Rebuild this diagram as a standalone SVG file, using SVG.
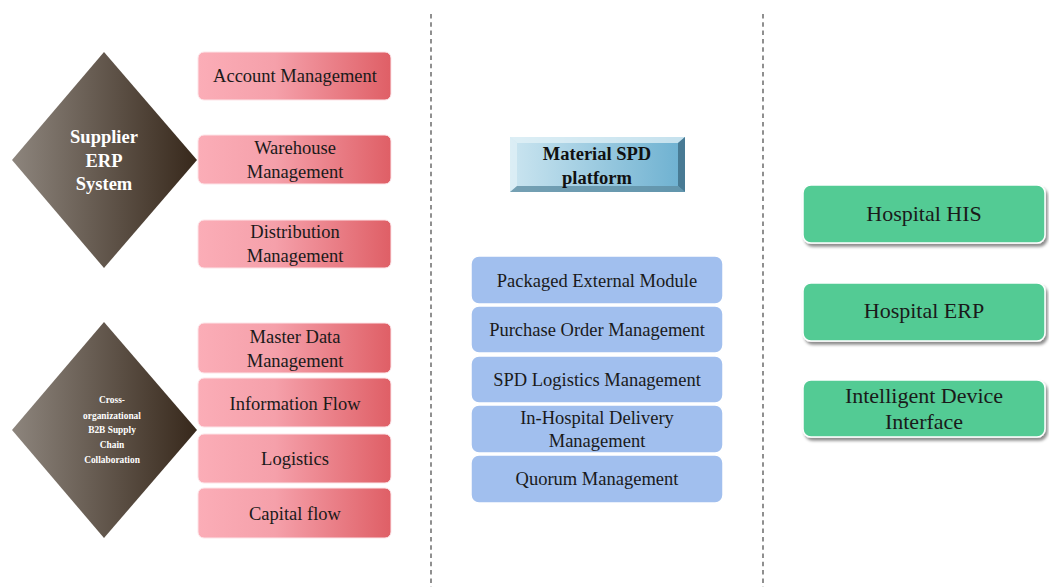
<svg xmlns="http://www.w3.org/2000/svg" width="1049" height="587" viewBox="0 0 1049 587">
  <defs>
    <linearGradient id="gDiamond" x1="0" y1="0" x2="1" y2="0">
      <stop offset="0" stop-color="#8d857d"/>
      <stop offset="1" stop-color="#37281b"/>
    </linearGradient>
    <linearGradient id="gPink" x1="0" y1="0" x2="1" y2="0">
      <stop offset="0" stop-color="#fbadb7"/>
      <stop offset="0.4" stop-color="#f5a0aa"/>
      <stop offset="1" stop-color="#df5f66"/>
    </linearGradient>
    <linearGradient id="gSpd" x1="0" y1="0" x2="1" y2="0">
      <stop offset="0" stop-color="#cbe5f0"/>
      <stop offset="1" stop-color="#6cb0d0"/>
    </linearGradient>
    <filter id="shadow" x="-10%" y="-20%" width="130%" height="150%">
      <feDropShadow dx="2" dy="3" stdDeviation="1.5" flood-color="#000" flood-opacity="0.45"/>
    </filter>
    <style>
      .sep { stroke: #555; stroke-width: 1.3; stroke-dasharray: 4.5 3.8; fill: none; }
      .diamond { fill: url(#gDiamond); }
      .pink { fill: url(#gPink); stroke: #fde4e8; stroke-width: 1; }
      .blue { fill: #a1bfee; stroke: #ffffff; stroke-width: 1.5; }
      .green { fill: #53cb94; stroke: #ffffff; stroke-width: 1.5; filter: url(#shadow); }
      .t { font-family: "Liberation Serif", "Times New Roman", serif; fill: #1a1a1a; text-anchor: middle; }
      .t18 { font-size: 18.5px; }
      .t22 { font-size: 22px; }
      .bw { font-family: "Liberation Serif", "Times New Roman", serif; font-weight: bold; fill: #ffffff; text-anchor: middle; }
      .bk { font-family: "Liberation Serif", "Times New Roman", serif; font-weight: bold; fill: #111; text-anchor: middle; font-size: 18.5px; }
    </style>
  </defs>

  <!-- column separators -->
  <g id="connectors">
    <line class="sep" x1="431" y1="14" x2="431" y2="587"/>
    <line class="sep" x1="763" y1="14" x2="763" y2="587"/>
  </g>

  <!-- supplier side -->
  <g id="supplier-erp">
    <polygon class="diamond" points="104,52 197,160 104,268 12,160"/>
    <text class="bw" font-size="18.5" x="104" y="143">Supplier</text>
    <text class="bw" font-size="18.5" x="104" y="167">ERP</text>
    <text class="bw" font-size="18.5" x="104" y="190">System</text>
  </g>
  <g id="b2b-collab">
    <polygon class="diamond" points="104,322 197,430 104,538 12,430"/>
    <text class="bw" font-size="9.4" x="112" y="403">Cross-</text>
    <text class="bw" font-size="9.4" x="112" y="418.5">organizational</text>
    <text class="bw" font-size="9.4" x="112" y="433">B2B Supply</text>
    <text class="bw" font-size="9.4" x="112" y="448">Chain</text>
    <text class="bw" font-size="9.4" x="112" y="462.5">Collaboration</text>
  </g>

  <g id="account-management">
    <rect class="pink" x="198" y="52" width="193" height="48" rx="6"/>
    <text class="t t18" x="295" y="82">Account Management</text>
  </g>
  <g id="warehouse-management">
    <rect class="pink" x="198" y="135" width="193" height="49" rx="6"/>
    <text class="t t18" x="295" y="154">Warehouse</text>
    <text class="t t18" x="295" y="178">Management</text>
  </g>
  <g id="distribution-management">
    <rect class="pink" x="198" y="220" width="193" height="48" rx="6"/>
    <text class="t t18" x="295" y="238">Distribution</text>
    <text class="t t18" x="295" y="262">Management</text>
  </g>
  <g id="master-data-management">
    <rect class="pink" x="198" y="323" width="193" height="50" rx="6"/>
    <text class="t t18" x="295" y="343">Master Data</text>
    <text class="t t18" x="295" y="367">Management</text>
  </g>
  <g id="information-flow">
    <rect class="pink" x="198" y="378" width="193" height="49" rx="6"/>
    <text class="t t18" x="295" y="410">Information Flow</text>
  </g>
  <g id="logistics">
    <rect class="pink" x="198" y="434" width="193" height="49" rx="6"/>
    <text class="t t18" x="295" y="465">Logistics</text>
  </g>
  <g id="capital-flow">
    <rect class="pink" x="198" y="488" width="193" height="50" rx="6"/>
    <text class="t t18" x="295" y="520">Capital flow</text>
  </g>

  <!-- platform column -->
  <g id="material-spd-platform">
    <rect x="510" y="137" width="175" height="55" fill="url(#gSpd)"/>
    <!-- bevel edges -->
    <polygon points="510,137 685,137 678,143 517,143" fill="#e3f1f7" opacity="0.75"/>
    <polygon points="510,137 517,143 517,186 510,192" fill="#e6f3f8" opacity="0.6"/>
    <polygon points="685,137 685,192 678,186 678,143" fill="#3f6d84" opacity="0.8"/>
    <polygon points="510,192 517,186 678,186 685,192" fill="#5f8ea4" opacity="0.8"/>
    <text class="bk" x="597" y="160">Material SPD</text>
    <text class="bk" x="597" y="184">platform</text>
  </g>

  <g id="packaged-external-module">
    <rect class="blue" x="471" y="256" width="252" height="48" rx="8"/>
    <text class="t t18" x="597" y="287">Packaged External Module</text>
  </g>
  <g id="purchase-order-management">
    <rect class="blue" x="471" y="306" width="252" height="47" rx="8"/>
    <text class="t t18" x="597" y="336">Purchase Order Management</text>
  </g>
  <g id="spd-logistics-management">
    <rect class="blue" x="471" y="356" width="252" height="47" rx="8"/>
    <text class="t t18" x="597" y="386">SPD Logistics Management</text>
  </g>
  <g id="in-hospital-delivery-management">
    <rect class="blue" x="471" y="405" width="252" height="48" rx="8"/>
    <text class="t t18" x="597" y="424">In-Hospital Delivery</text>
    <text class="t t18" x="597" y="447">Management</text>
  </g>
  <g id="quorum-management">
    <rect class="blue" x="471" y="455" width="252" height="48" rx="8"/>
    <text class="t t18" x="597" y="485">Quorum Management</text>
  </g>

  <!-- hospital side -->
  <g id="hospital-his">
    <rect class="green" x="803" y="185" width="242" height="58" rx="8"/>
    <text class="t t22" x="924" y="221">Hospital HIS</text>
  </g>
  <g id="hospital-erp">
    <rect class="green" x="803" y="283" width="242" height="58" rx="8"/>
    <text class="t t22" x="924" y="318">Hospital ERP</text>
  </g>
  <g id="intelligent-device-interface">
    <rect class="green" x="803" y="380" width="242" height="57" rx="8"/>
    <text class="t t22" x="924" y="403">Intelligent Device</text>
    <text class="t t22" x="924" y="429">Interface</text>
  </g>
</svg>
